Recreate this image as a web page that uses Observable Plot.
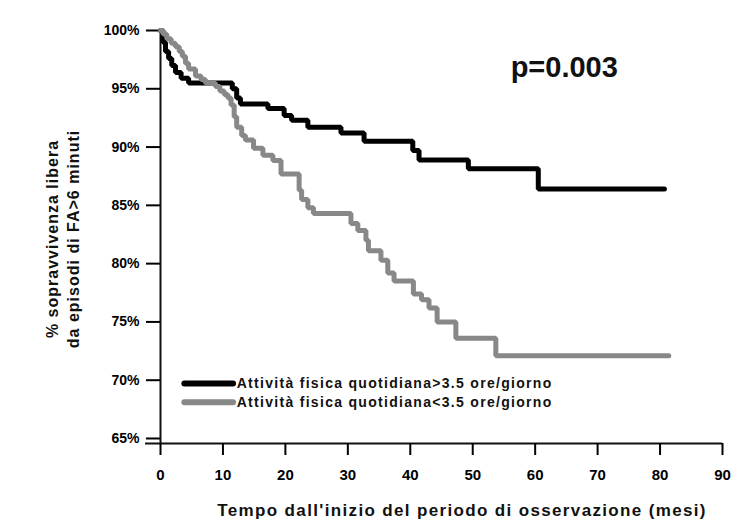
<!DOCTYPE html>
<html>
<head>
<meta charset="utf-8">
<script src="https://cdn.jsdelivr.net/npm/d3@7"></script>
<script src="https://cdn.jsdelivr.net/npm/@observablehq/plot@0.6"></script>
<style>
  html, body { margin: 0; padding: 0; background: #fff; }
  #chart svg { display: block; }
</style>
</head>
<body>
<div id="chart"></div>
<script>
// ---- data ----
const blackMonths = [0, 0.4, 0.8, 1.3, 1.8, 2.4, 3.3, 4.5, 11.5, 12.2, 12.8, 17.2, 19.8, 21.0, 23.6, 28.9, 32.6, 40.4, 41.4, 49.3, 60.5, 80.7];
const blackSurv   = [100, 99.0, 98.2, 97.6, 97.0, 96.4, 95.9, 95.5, 95.0, 94.2, 93.7, 93.3, 92.7, 92.3, 91.7, 91.2, 90.5, 89.7, 88.9, 88.15, 86.4, 86.4];

const grayMonths = [0, 0.4, 1.0, 1.7, 2.4, 3.0, 3.5, 4.0, 4.5, 5.6, 6.5, 7.2, 8.8, 9.5, 10.2, 10.8, 11.3, 11.8, 12.2, 13.0, 13.6, 14.9, 16.4, 18.0, 19.3, 22.2, 22.6, 23.6, 24.5, 30.5, 31.6, 32.9, 33.3, 35.3, 36.4, 37.4, 40.5, 41.8, 43.0, 44.3, 47.3, 53.7, 81.4];
const graySurv   = [100, 99.7, 99.3, 98.9, 98.6, 98.2, 97.8, 97.2, 96.7, 96.1, 95.8, 95.5, 95.2, 94.8, 94.5, 94.2, 93.6, 92.6, 91.7, 91.0, 90.6, 89.9, 89.3, 88.85, 87.7, 86.3, 85.5, 84.8, 84.3, 83.45, 82.85, 82.0, 81.1, 80.3, 79.2, 78.5, 77.4, 76.9, 76.2, 75.0, 73.6, 72.1, 72.1];

const seriesNames = ["Attività fisica quotidiana>3.5 ore/giorno", "Attività fisica quotidiana<3.5 ore/giorno"];
const xTicks = [0, 10, 20, 30, 40, 50, 60, 70, 80, 90];
const yTicks = [65, 70, 75, 80, 85, 90, 95, 100];
const pValueLabel = "p=0.003";
const xTitle = "Tempo dall'inizio del periodo di osservazione (mesi)";
const yTitleLines = ["% sopravvivenza libera", "da episodi di FA>6 minuti"];

// ---- build tables ----
const black = blackMonths.map((m, i) => ({month: m, surv: blackSurv[i]}));
const gray  = grayMonths.map((m, i) => ({month: m, surv: graySurv[i]}));

const yBottom = 64.57;
const font = "'Liberation Sans', Arial, Helvetica, sans-serif";

const chart = Plot.plot({
  width: 738,
  height: 524,
  marginLeft: 160,
  marginRight: 16,
  marginTop: 30,
  marginBottom: 81,
  style: {fontFamily: font, fontWeight: "bold", color: "#000", background: "#fff"},
  x: {domain: [0, 90]},
  y: {domain: [yBottom, 100]},
  marks: [
    // axes
    Plot.ruleY([yBottom], {x1: -2.4, x2: 90, stroke: "#111", strokeWidth: 2}),
    Plot.ruleX([0], {y1: yBottom, y2: 100.15, stroke: "#111", strokeWidth: 2}),
    Plot.axisX({ticks: xTicks, tickSize: 12, tickPadding: 14, fontSize: 15, fontWeight: "bold", strokeWidth: 2, label: null}),
    Plot.axisY({ticks: yTicks, tickFormat: d => d + "%", tickSize: 14, tickPadding: 7, fontSize: 14, fontWeight: "bold", strokeWidth: 2, label: null}),
    // titles
    Plot.text([xTitle], {x: 48.3, frameAnchor: "bottom", dy: 72, fontSize: 17, fontWeight: "bold", fill: "#111"}),
    Plot.text([yTitleLines[0]], {frameAnchor: "left", textAnchor: "middle", dx: -108, dy: 2, rotate: -90, fontSize: 16, fontWeight: "bold", fill: "#111"}),
    Plot.text([yTitleLines[1]], {frameAnchor: "left", textAnchor: "middle", dx: -87, dy: 2, rotate: -90, fontSize: 16, fontWeight: "bold", fill: "#111"}),
    // curves
    Plot.line(black, {x: "month", y: "surv", curve: "step-after", stroke: "#000", strokeWidth: 5, strokeLinejoin: "miter"}),
    Plot.line(gray, {x: "month", y: "surv", curve: "step-after", stroke: "#888", strokeWidth: 5, strokeLinejoin: "miter"}),
    // p value
    Plot.text([pValueLabel], {x: 64.66, y: 96.83, fontSize: 29, fontWeight: "bold", fill: "#111"}),
    // legend
    Plot.ruleY([69.72], {x1: 3.9, x2: 11.7, stroke: "#000", strokeWidth: 6, strokeLinecap: "round"}),
    Plot.ruleY([68.1], {x1: 3.9, x2: 11.7, stroke: "#888", strokeWidth: 6, strokeLinecap: "round"}),
    Plot.text([seriesNames[0]], {x: 12.2, y: 69.72, textAnchor: "start", fontSize: 14, fontWeight: "bold", fill: "#111"}),
    Plot.text([seriesNames[1]], {x: 12.2, y: 68.1, textAnchor: "start", fontSize: 14, fontWeight: "bold", fill: "#111"})
  ]
});
const spacing = new Map([[xTitle, "1.35px"], [yTitleLines[0], "1px"], [yTitleLines[1], "1px"], [seriesNames[0], "1.3px"], [seriesNames[1], "1.3px"]]);
d3.select(chart).selectAll("text").each(function() {
  const s = spacing.get(this.textContent);
  if (s) this.style.letterSpacing = s;
});
document.getElementById("chart").appendChild(chart);
</script>
</body>
</html>
